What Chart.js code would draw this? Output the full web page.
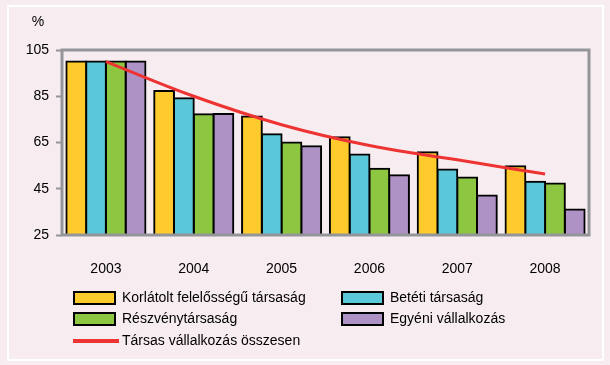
<!DOCTYPE html>
<html>
<head>
<meta charset="utf-8">
<script src="https://cdn.jsdelivr.net/npm/chart.js@4.4.1/dist/chart.umd.min.js"></script>
<style>
  html, body { margin: 0; padding: 0; background: #F7EDF1; }
  #wrap { width: 610px; height: 365px; }
</style>
</head>
<body>
<div id="wrap"><canvas id="chart" width="610" height="365"></canvas></div>
<script>
// years on the x axis
const years = ['2003', '2004', '2005', '2006', '2007', '2008'];

// index, 2003 = 100
const kft = [100, 87.3, 76.2, 67.3, 60.8, 54.7];
const bt = [100, 84.1, 68.6, 59.8, 53.3, 48.0];
const rt = [100, 77.2, 65.0, 53.7, 49.9, 47.3];
const egyeni = [100, 77.3, 63.4, 50.8, 42.1, 36.0];
const osszesen = [100, 85.0, 72.7, 63.7, 57.5, 51.4];

const yTicks = [25, 45, 65, 85, 105];

const FONT = '"Liberation Sans", Arial, sans-serif';

// page background + white frame, the "%" label, plot frame and legend
const decor = {
  id: 'decor',
  beforeDraw(chart) {
    const ctx = chart.ctx;
    ctx.save();
    ctx.fillStyle = '#F7EDF1';
    ctx.fillRect(0, 0, chart.width, chart.height);
    ctx.strokeStyle = '#ffffff';
    ctx.lineWidth = 2;
    ctx.strokeRect(8, 6, 595, 354);
    ctx.fillStyle = '#000';
    ctx.font = '14px ' + FONT;
    ctx.textAlign = 'center';
    ctx.textBaseline = 'middle';
    ctx.fillText('%', 38, 22);
    ctx.restore();
  },
  afterDatasetsDraw(chart) {
    const ctx = chart.ctx;
    const a = chart.chartArea;
    ctx.save();
    ctx.strokeStyle = '#939598';
    ctx.lineWidth = 3;
    ctx.strokeRect(a.left, a.top, a.right - a.left, a.bottom - a.top);
    ctx.restore();
  },
  afterDraw(chart) {
    const ctx = chart.ctx;
    const ds = chart.data.datasets;
    // legend slots: [dataset index, x, y]
    const slots = [[0, 74, 298], [1, 342, 298], [2, 74, 319], [3, 342, 319], [4, 74, 341]];
    ctx.save();
    ctx.font = '14px ' + FONT;
    ctx.textBaseline = 'middle';
    ctx.textAlign = 'left';
    slots.forEach(([i, x, y]) => {
      const d = ds[i];
      if (d.type === 'line') {
        ctx.strokeStyle = d.borderColor;
        ctx.lineWidth = 4;
        ctx.beginPath();
        ctx.moveTo(x - 1, y);
        ctx.lineTo(x + 45, y);
        ctx.stroke();
      } else {
        ctx.fillStyle = d.backgroundColor;
        ctx.fillRect(x, y - 6, 41, 12);
        ctx.strokeStyle = '#000';
        ctx.lineWidth = 2;
        ctx.strokeRect(x, y - 6, 41, 12);
      }
      ctx.fillStyle = '#000';
      ctx.fillText(d.label, x + 48, y);
    });
    ctx.restore();
  }
};

const barStyle = { borderColor: '#000', borderWidth: 2, inflateAmount: 1, order: 1 };

new Chart(document.getElementById('chart'), {
  type: 'bar',
  data: {
    labels: years,
    datasets: [
      { label: 'Korlátolt felelősségű társaság', data: kft, backgroundColor: '#FFCA2B', ...barStyle },
      { label: 'Betéti társaság', data: bt, backgroundColor: '#5BC8DA', ...barStyle },
      { label: 'Részvénytársaság', data: rt, backgroundColor: '#8DC641', ...barStyle },
      { label: 'Egyéni vállalkozás', data: egyeni, backgroundColor: '#AE92C6', ...barStyle },
      {
        type: 'line', label: 'Társas vállalkozás összesen', data: osszesen,
        borderColor: '#EE3333', borderWidth: 3, tension: 0.4,
        pointRadius: 0, fill: false, order: 0
      }
    ]
  },
  options: {
    responsive: false,
    animation: false,
    devicePixelRatio: 1,
    layout: { padding: { top: 50, right: 21, left: 0, bottom: 0 } },
    datasets: { bar: { categoryPercentage: 0.9, barPercentage: 1.0 } },
    plugins: { legend: { display: false }, tooltip: { enabled: false } },
    scales: {
      x: {
        grid: { display: false, drawTicks: false },
        border: { display: false },
        ticks: { color: '#000', font: { family: FONT, size: 14 }, padding: 26 },
        afterFit(scale) { scale.height = 130; }
      },
      y: {
        min: 25,
        max: 105,
        afterBuildTicks(scale) { scale.ticks = yTicks.map(v => ({ value: v })); },
        grid: { drawOnChartArea: false, drawTicks: true, tickLength: 6, tickColor: '#939598', tickWidth: 2 },
        border: { display: false },
        ticks: { color: '#000', font: { family: FONT, size: 14 }, padding: 7 },
        afterFit(scale) { scale.width = 62; }
      }
    }
  },
  plugins: [decor]
});
</script>
</body>
</html>
